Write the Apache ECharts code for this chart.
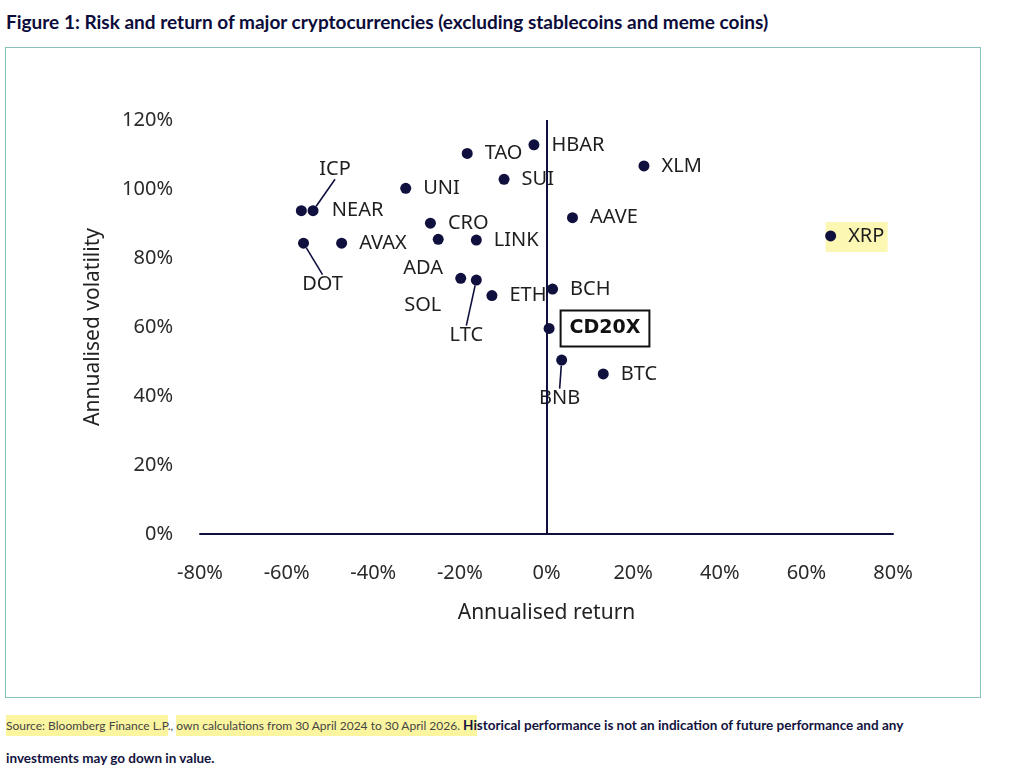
<!DOCTYPE html>
<html>
<head>
<meta charset="utf-8">
<script src="https://cdn.jsdelivr.net/npm/echarts@6/dist/echarts.min.js"></script>
<style>
  body { margin: 0; background: #fff; width: 1024px; height: 776px; position: relative; overflow: hidden; }
  .title { position: absolute; left: 6px; top: 10px; font: bold 19px Lato, sans-serif; color: #0c0c3a; white-space: nowrap; }
  .frame { position: absolute; left: 5px; top: 47px; width: 976px; height: 651px; box-sizing: border-box; border: 1px solid #86c2ba; }
  .note { position: absolute; left: 6px; top: 709px; width: 1010px; font: 12px Lato, sans-serif; line-height: 32px; color: #444; white-space: nowrap; }
  .note b { color: #12123e; font-weight: bold; font-size: 13.5px; }
  .hl { background: #fbf5a0; padding: 3px 0; }
  #main { position: absolute; left: 0; top: 0; width: 1024px; height: 776px; }
</style>
</head>
<body>
<div class="title">Figure 1: Risk and return of major cryptocurrencies (excluding stablecoins and meme coins)</div>
<div class="frame"></div>
<div class="note"><span class="hl">Source: Bloomberg Finance L.P</span>., <span class="hl">own calculations from 30 April 2024 to 30 April 2026. <b>Hi</b></span><b>storical performance is not an indication of future performance and any</b><br><b>investments may go down in value.</b></div>
<div id="main"></div>
<script>
// 数据
var coins = ['HBAR', 'TAO', 'XLM', 'SUI', 'UNI', 'ICP', 'NEAR', 'AAVE', 'CRO', 'ADA', 'LINK',
             'XRP', 'DOT', 'AVAX', 'SOL', 'LTC', 'ETH', 'BCH', 'CD20X', 'BNB', 'BTC'];
var annualReturn = [-2.9, -18.3, 22.5, -9.8, -32.5, -53.9, -56.6, 6.0, -26.8, -25.0, -16.2,
                    65.6, -56.1, -47.3, -19.8, -16.2, -12.6, 1.4, 0.6, 3.5, 13.1];
var annualVol = [112.8, 110.3, 106.7, 102.8, 100.2, 93.7, 93.7, 91.7, 90.1, 85.4, 85.2,
                 86.4, 84.3, 84.3, 74.1, 73.6, 69.1, 71.0, 59.6, 50.4, 46.4];
var xTicks = ['-80%', '-60%', '-40%', '-20%', '0%', '20%', '40%', '60%', '80%'];
var yTicks = ['0%', '20%', '40%', '60%', '80%', '100%', '120%'];
var highlighted = 'XRP';

var navy = '#10103e';

// 标签位置微调 (move = 挪动, line = 引线)
var labelTweaks = {
  ICP: { position: 'top', move: [22, -14], line: true },
  NEAR: { distance: 25 },
  DOT: { position: 'bottom', move: [19, 14], line: true },
  LTC: { position: 'bottom', move: [-10, 28], line: true },
  BNB: { position: 'bottom', move: [-2, 11], line: true },
  SOL: { position: 'bottom', move: [-38, -1] },
  ADA: { position: 'bottom', move: [-15, 1] }
};

var points = coins.map(function (c, i) {
  var item = { name: c, value: [annualReturn[i], annualVol[i]] };
  var t = labelTweaks[c];
  if (t) {
    item.label = { position: t.position || 'right' };
    if (t.distance) item.label.distance = t.distance;
    if (t.line) item.labelLine = { show: true, lineStyle: { color: navy, width: 1.6 } };
  }
  if (c === 'CD20X') {
    item.label = {
      distance: 6, fontWeight: 'bold', fontFamily: 'DejaVu Sans', fontSize: 19,
      color: '#111', borderColor: '#111', borderWidth: 2, padding: [9, 9, 8, 9]
    };
  }
  return item;
});

var hi = coins.indexOf(highlighted);

var myChart = echarts.init(document.getElementById('main'));
var option = {
  animation: false,
  grid: { left: 200, right: 131, top: 120, bottom: 242 },
  xAxis: {
    type: 'value', min: -80, max: 80, interval: 20,
    name: 'Annualised return', nameLocation: 'middle', nameGap: 69,
    nameTextStyle: { fontFamily: 'Noto Sans', fontSize: 21, color: '#222' },
    axisLine: { show: true, onZero: false, lineStyle: { color: navy, width: 2 } },
    axisTick: { show: false },
    splitLine: { show: false },
    axisLabel: {
      margin: 29, fontFamily: 'Noto Sans', fontSize: 20, color: '#2a2a2a',
      formatter: function (v) { return xTicks[(v + 80) / 20]; }
    }
  },
  yAxis: {
    type: 'value', min: 0, max: 120, interval: 20,
    name: 'Annualised volatility', nameLocation: 'middle', nameGap: 96, nameRotate: 90,
    nameTextStyle: { fontFamily: 'Noto Sans', fontSize: 21, color: '#222' },
    axisLine: { show: false },
    axisTick: { show: false },
    splitLine: { show: false },
    axisLabel: {
      margin: 27, fontFamily: 'Noto Sans', fontSize: 20, color: '#2a2a2a',
      formatter: function (v) { return yTicks[v / 20]; }
    }
  },
  series: [
    {
      // XRP 黄色高亮
      type: 'scatter', z: 1, silent: true,
      symbol: 'rect', symbolSize: [62, 30], symbolOffset: [26, 1],
      itemStyle: { color: '#fbf5a0' },
      data: [[annualReturn[hi], annualVol[hi]]]
    },
    {
      type: 'scatter', z: 3,
      symbolSize: 11,
      itemStyle: { color: navy, opacity: 1 },
      label: {
        show: true, position: 'right', distance: 12,
        formatter: '{b}', fontFamily: 'Noto Sans', fontSize: 20, color: '#1e1e1e'
      },
      labelLayout: function (params) {
        var t = labelTweaks[coins[params.dataIndex]];
        if (t && t.move) return { dx: t.move[0], dy: t.move[1] };
        return {};
      },
      markLine: {
        silent: true, symbol: 'none', label: { show: false },
        lineStyle: { color: navy, width: 2, type: 'solid' },
        data: [{ xAxis: 0 }]
      },
      data: points
    }
  ]
};
option && myChart.setOption(option);
</script>
</body>
</html>
